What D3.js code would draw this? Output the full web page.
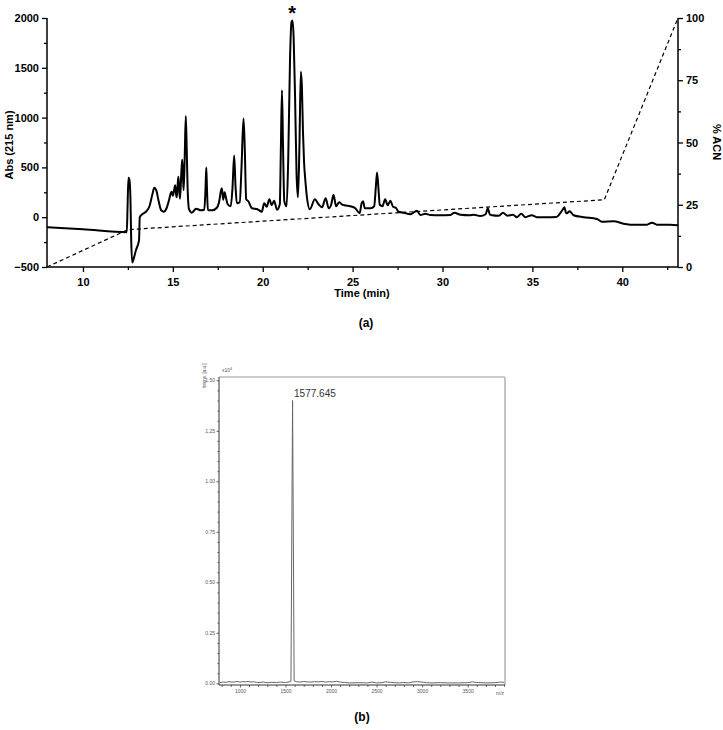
<!DOCTYPE html>
<html><head><meta charset="utf-8">
<script src="https://cdn.jsdelivr.net/npm/d3@7"></script>
<style>body{margin:0;background:#fff}svg{display:block}</style>
</head><body>
<svg id="c" width="723" height="730"></svg>
<script>
// ---------- (a) HPLC chromatogram ----------
const traceTime=[8.0,10.0,12.44,12.48,12.53,12.58,12.64,12.68,12.74,12.8,12.95,13.12,13.16,13.3,13.5,13.7,13.85,13.97,14.08,14.2,14.35,14.5,14.65,14.8,14.88,14.94,15.0,15.07,15.13,15.18,15.22,15.27,15.31,15.36,15.40,15.46,15.52,15.56,15.6,15.66,15.72,15.77,15.82,15.9,16.05,16.3,16.55,16.75,16.82,16.86,16.9,16.95,17.2,17.45,17.58,17.68,17.73,17.8,17.88,17.95,18.05,18.22,18.32,18.41,18.49,18.56,18.72,18.82,18.93,19.0,19.08,19.2,19.4,19.7,19.95,20.08,20.22,20.37,20.5,20.63,20.8,20.95,21.01,21.07,21.13,21.2,21.33,21.42,21.52,21.6,21.66,21.72,21.8,21.88,21.96,22.04,22.12,22.18,22.24,22.3,22.38,22.46,22.62,22.9,23.1,23.3,23.5,23.67,23.8,23.94,24.08,24.25,24.4,24.55,24.87,25.15,25.39,25.5,25.58,25.68,26.0,26.2,26.29,26.36,26.44,26.51,26.66,26.81,26.95,27.1,27.25,27.4,27.56,27.84,28.21,28.58,28.77,29.05,29.33,29.88,30.44,30.66,31.0,31.5,31.74,32.1,32.4,32.52,32.64,32.76,33.13,33.37,33.59,33.92,34.14,34.38,34.6,34.97,35.25,35.81,36.33,36.55,36.7,36.78,36.86,36.92,37.07,37.29,37.85,38.59,38.87,39.52,40.07,40.82,41.37,41.65,41.93,42.67,43.1];
const traceAbs=[-100,-120,-150,100,395,380,200,-200,-455,-430,-330,-230,0,30,55,110,220,295,270,170,70,55,90,180,240,255,215,270,320,230,200,330,405,260,185,400,580,420,270,600,1015,700,300,80,45,85,70,75,300,500,280,70,70,95,160,270,290,175,250,200,130,110,300,620,300,140,150,500,990,700,180,160,90,80,55,140,105,180,120,165,75,130,700,1275,700,160,110,600,1600,1960,1975,1800,1200,450,200,700,1460,1300,850,550,350,200,80,180,130,100,190,90,120,225,110,150,130,120,110,90,40,140,160,90,90,110,300,450,280,125,110,180,120,165,105,95,55,45,30,65,22,35,22,20,22,45,25,20,25,12,30,89,25,20,15,45,15,25,0,35,0,20,0,0,2,40,80,99,50,40,60,20,0,-18,-45,-40,-65,-77,-75,-55,-75,-75,-82];
const acnTime=[8,12.5,39,43.1];
const acnPct=[0,15,27,100];
const absTicks=[-500,0,500,1000,1500,2000];
const absMinor=[-250,250,750,1250,1750];
const timeTicks=[10,15,20,25,30,35,40];
const timeMinor=[12.5,17.5,22.5,27.5,32.5,37.5,42.5];
const acnTicks=[0,25,50,75,100];
const acnMinor=[12.5,37.5,62.5,87.5];

// ---------- (b) MALDI mass spectrum ----------
const msMz=[780,820,850,880,910,940,970,1000,1030,1060,1090,1120,1150,1180,1210,1260,1300,1350,1400,1450,1500,1540,1560,1577.645,1595,1620,1660,1700,1740,1780,1820,1860,1900,1940,1980,2020,2060,2100,2150,2200,2300,2400,2450,2500,2550,2600,2650,2700,2750,2800,2850,2900,2950,3000,3050,3100,3200,3300,3400,3500,3550,3600,3700,3800,3850,3900];
const msInt=[0.004,0.006,0.005,0.008,0.006,0.007,0.009,0.006,0.008,0.007,0.009,0.006,0.008,0.005,0.004,0.006,0.003,0.005,0.004,0.006,0.004,0.007,0.01,1.40,0.012,0.008,0.006,0.009,0.007,0.006,0.008,0.007,0.009,0.006,0.008,0.007,0.01,0.006,0.004,0.002,0.003,0.002,0.006,0.002,0.003,0.007,0.005,0.003,0.002,0.004,0.002,0.007,0.008,0.006,0.003,0.002,0.003,0.002,0.002,0.003,0.007,0.004,0.002,0.003,0.006,0.005];
const msPeakMz=1577.645;
const msPeakLabel="1577.645";
const msYTicks=[0,0.25,0.5,0.75,1.0,1.25,1.5];
const msXTicks=[1000,1500,2000,2500,3000,3500];

const svg=d3.select("#c");
svg.append("rect").attr("width",723).attr("height",730).attr("fill","#fff");

const FONT="'Liberation Sans', Arial, sans-serif";
const x=d3.scaleLinear().domain([8,43.1]).range([47,678]);
const yA=d3.scaleLinear().domain([-500,2000]).range([267,18]);
const yC=d3.scaleLinear().domain([0,100]).range([267,18]);
const fmtInt=d3.format("d");

const gA=svg.append("g").attr("font-family",FONT);

function styleAxis(g){
  g.select(".domain").remove();
  g.selectAll(".tick line").attr("stroke","#000").attr("stroke-width",1.3);
  g.selectAll(".tick text").attr("font-family",FONT).attr("font-size",11).attr("font-weight","bold").attr("fill","#000");
}
// left axis
gA.append("g").attr("transform","translate(47,0)").call(d3.axisLeft(yA).tickValues(absTicks).tickSize(5).tickPadding(3).tickFormat(fmtInt)).call(styleAxis);
gA.append("g").attr("transform","translate(47,0)").call(d3.axisLeft(yA).tickValues(absMinor).tickSize(3).tickFormat("")).call(styleAxis);
// bottom axis
gA.append("g").attr("transform","translate(0,267)").call(d3.axisBottom(x).tickValues(timeTicks).tickSize(5).tickPadding(6).tickFormat(fmtInt)).call(styleAxis);
gA.append("g").attr("transform","translate(0,267)").call(d3.axisBottom(x).tickValues(timeMinor).tickSize(3).tickFormat("")).call(styleAxis);
// right axis
gA.append("g").attr("transform","translate(678,0)").call(d3.axisRight(yC).tickValues(acnTicks).tickSize(5).tickPadding(3).tickFormat(fmtInt)).call(styleAxis);
gA.append("g").attr("transform","translate(678,0)").call(d3.axisRight(yC).tickValues(acnMinor).tickSize(3).tickFormat("")).call(styleAxis);
// axis lines
gA.append("path").attr("d",`M47,18V267H678V18`).attr("fill","none").attr("stroke","#000").attr("stroke-width",1.5);

// ACN gradient dashed
const acnData=acnTime.map((t,i)=>({t,v:acnPct[i]}));
gA.append("path").datum(acnData).attr("d",d3.line().x(d=>x(d.t)).y(d=>yC(d.v)))
  .attr("fill","none").attr("stroke","#000").attr("stroke-width",1.2).attr("stroke-dasharray","4,3");

// trace
const trData=traceTime.map((t,i)=>({t,v:traceAbs[i]}));
gA.append("path").datum(trData).attr("d",d3.line().x(d=>x(d.t)).y(d=>yA(d.v)).curve(d3.curveMonotoneX))
  .attr("fill","none").attr("stroke","#000").attr("stroke-width",2).attr("stroke-linejoin","round");

// labels
gA.append("text").attr("x",362).attr("y",297).attr("text-anchor","middle").attr("font-size",11).attr("font-weight","bold").text("Time (min)");
gA.append("text").attr("transform","translate(13,145) rotate(-90)").attr("text-anchor","middle").attr("font-size",11).attr("font-weight","bold").text("Abs (215 nm)");
gA.append("text").attr("transform","translate(713,142) rotate(90)").attr("text-anchor","middle").attr("font-size",11).attr("font-weight","bold").text("% ACN");
gA.append("text").attr("x",x(21.64)).attr("y",20).attr("text-anchor","middle").attr("font-size",20).attr("font-weight","bold").text("*");
gA.append("text").attr("x",366).attr("y",327).attr("text-anchor","middle").attr("font-size",12).attr("font-weight","bold").text("(a)");

// ---------- (b) ----------
const mx=d3.scaleLinear().domain([770,3910]).range([219,505]);
const my=d3.scaleLinear().domain([0,1.5]).range([683.3,380.3]);
const gB=svg.append("g").attr("font-family",FONT);
// frame
gB.append("path").attr("d","M219,377H505").attr("stroke","#999").attr("stroke-width",1).attr("fill","none");
gB.append("path").attr("d","M505,377V685").attr("stroke","#c4c4c4").attr("stroke-width",2).attr("fill","none");
function styleMs(g){
  g.select(".domain").remove();
  g.selectAll(".tick line").attr("stroke","#444").attr("stroke-width",0.8);
  g.selectAll(".tick text").attr("font-family",FONT).attr("font-size",5).attr("fill","#555");
}
gB.append("g").attr("transform","translate(219,0)").call(d3.axisLeft(my).tickValues(msYTicks).tickSize(2.5).tickPadding(1.5).tickFormat(d3.format(".2f"))).call(styleMs);
gB.append("g").attr("transform","translate(219,0)").call(d3.axisLeft(my).tickValues(d3.range(0.05,1.5,0.05).filter(v=>Math.abs(v/0.25-Math.round(v/0.25))>0.01)).tickSize(1.5).tickFormat("")).call(styleMs);
gB.append("g").attr("transform","translate(0,685)").call(d3.axisBottom(mx).tickValues(msXTicks).tickSize(2.5).tickPadding(2).tickFormat(fmtInt)).call(styleMs);
gB.append("g").attr("transform","translate(0,685)").call(d3.axisBottom(mx).tickValues(d3.range(800,3901,100).filter(v=>v%500!==0)).tickSize(2).tickFormat("")).call(styleMs);
gB.append("path").attr("d","M219,377V685H505").attr("stroke","#333").attr("stroke-width",1).attr("fill","none");
// spectrum
const msData=msMz.map((m,i)=>({m,v:msInt[i]}));
gB.append("path").datum(msData).attr("d",d3.line().x(d=>mx(d.m)).y(d=>my(d.v)))
  .attr("fill","none").attr("stroke","#666").attr("stroke-width",1);
gB.append("text").attr("x",mx(msPeakMz)+1.5).attr("y",397).attr("font-size",10).attr("fill","#333").text(msPeakLabel);
gB.append("text").attr("x",500).attr("y",695).attr("text-anchor","middle").attr("font-size",5).attr("fill","#555").text("m/z");
gB.append("text").attr("x",222).attr("y",372).attr("font-size",5).attr("fill","#555").text("x10").append("tspan").attr("dy",-2).attr("font-size",4).text("4");
gB.append("text").attr("transform","translate(206,376) rotate(-90)").attr("text-anchor","middle").attr("font-size",4.5).attr("fill","#555").text("Intens. [a.u.]");
gB.append("text").attr("x",362).attr("y",721).attr("text-anchor","middle").attr("font-size",12).attr("font-weight","bold").text("(b)");
</script>
</body></html>
